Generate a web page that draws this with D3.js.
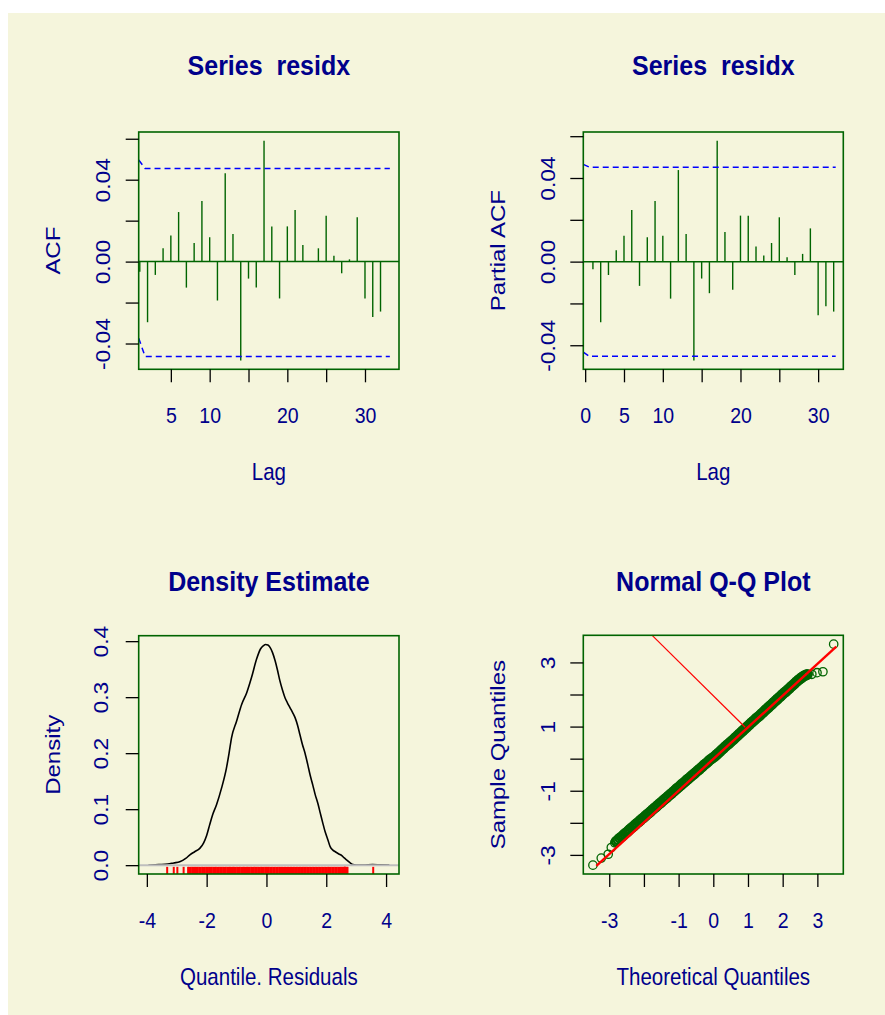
<!DOCTYPE html>
<html>
<head>
<meta charset="utf-8">
<script src="https://cdn.jsdelivr.net/npm/d3@7"></script>
<style>
  html, body { margin: 0; padding: 0; background: #fff; }
  svg { display: block; font-family: "Liberation Sans", Arial, sans-serif; }
</style>
</head>
<body>
<svg id="chart" width="885" height="1015"></svg>
<script>
// ---- data ----
const lags = [1,2,3,4,5,6,7,8,9,10,11,12,13,14,15,16,17,18,19,20,21,22,23,24,25,26,27,28,29,30,31,32];
const acfValues = [-0.0049,-0.0296,-0.0065,0.0065,0.0127,0.0242,-0.0127,0.0091,0.0296,0.0119,
  -0.0190,0.0431,0.0135,-0.0483,-0.0083,-0.0127,0.0590,0.0172,-0.0180,0.0172,
  0.0252,0.0081,0.0003,0.0065,0.0224,0.0029,-0.0057,0.0011,0.0216,-0.0180,-0.0270,-0.0244];
const pacfValues = [-0.0037,-0.0290,-0.0064,0.0054,0.0124,0.0247,-0.0116,0.0116,0.0290,0.0124,
  -0.0177,0.0438,0.0132,-0.0473,-0.0081,-0.0151,0.0578,0.0142,-0.0134,0.0220,
  0.0220,0.0072,0.0029,0.0089,0.0212,0.0021,-0.0064,0.0037,0.0159,-0.0256,-0.0213,-0.0239];

// confidence bands: lag positions and values
const acfCiLags = [0.86, 1.68, 33.2];
const acfCiUpper = [0.0496, 0.0455, 0.0455];
const acfCiLower = [-0.0374, -0.0463, -0.0463];
const pacfCiLags = [-0.24, 0.55, 32.26];
const pacfCiUpper = [0.0465, 0.0452, 0.0452];
const pacfCiLower = [-0.0433, -0.0453, -0.0453];

// density estimate
const densX = [-3.95,-3.6,-3.3,-3.1,-2.9,-2.7,-2.55,-2.4,-2.23,-2.1,-2.0,-1.9,-1.8,-1.67,-1.5,-1.34,-1.25,-1.17,-1.0,-0.83,
  -0.66,-0.5,-0.33,-0.2,-0.1,-0.03,0.05,0.12,0.2,0.29,0.37,0.45,0.54,0.62,0.7,0.79,0.88,0.96,1.04,1.12,
  1.2,1.29,1.38,1.46,1.55,1.63,1.72,1.8,1.88,1.96,2.05,2.13,2.22,2.3,2.42,2.52,2.6,2.69,2.8,2.89,
  3.1,3.3,3.55,3.8,4.11];
const densY = [0,0.001,0.002,0.004,0.006,0.012,0.019,0.024,0.030,0.040,0.053,0.072,0.090,0.108,0.138,0.173,0.200,0.227,0.257,0.287,
  0.308,0.335,0.368,0.386,0.392,0.394,0.393,0.389,0.380,0.365,0.348,0.329,0.312,0.299,0.290,0.281,0.272,0.263,0.250,0.233,
  0.216,0.200,0.180,0.161,0.143,0.126,0.110,0.093,0.076,0.060,0.046,0.033,0.027,0.024,0.020,0.017,0.013,0.009,0.004,0.001,
  0,0.0003,0.001,0.0005,0];

// normal Q-Q: isolated tail points and the dense central band
const qqTailTheo = [-3.47,-3.23,-3.03,-2.94,-2.84,2.73,2.84,2.99,3.16,3.47];
const qqTailSample = [-3.32,-3.10,-2.98,-2.77,-2.62,2.63,2.63,2.68,2.71,3.57];
const qqBandTheo = [
  -2.80,-2.75,-2.70,-2.65,-2.60,-2.55,-2.50,-2.45,-2.40,-2.35,
  -2.30,-2.25,-2.20,-2.15,-2.10,-2.05,-2.00,-1.95,-1.90,-1.85,
  -1.80,-1.75,-1.70,-1.65,-1.60,-1.55,-1.50,-1.45,-1.40,-1.35,
  -1.30,-1.25,-1.20,-1.15,-1.10,-1.05,-1.00,-0.95,-0.90,-0.85,
  -0.80,-0.75,-0.70,-0.65,-0.60,-0.55,-0.50,-0.45,-0.40,-0.35,
  -0.30,-0.25,-0.20,-0.15,-0.10,-0.05,0.00,0.05,0.10,0.15,
  0.20,0.25,0.30,0.35,0.40,0.45,0.50,0.55,0.60,0.65,
  0.70,0.75,0.80,0.85,0.90,0.95,1.00,1.05,1.10,1.15,
  1.20,1.25,1.30,1.35,1.40,1.45,1.50,1.55,1.60,1.65,
  1.70,1.75,1.80,1.85,1.90,1.95,2.00,2.05,2.10,2.15,
  2.20,2.25,2.30,2.35,2.40,2.45,2.50,2.55,2.60,2.65,2.70];
const qqBandSample = [
  -2.58,-2.53,-2.48,-2.44,-2.39,-2.34,-2.30,-2.25,-2.20,-2.15,
  -2.11,-2.06,-2.01,-1.97,-1.92,-1.87,-1.83,-1.78,-1.73,-1.69,
  -1.64,-1.59,-1.54,-1.50,-1.45,-1.40,-1.36,-1.31,-1.26,-1.22,
  -1.17,-1.12,-1.08,-1.03,-0.98,-0.93,-0.89,-0.84,-0.79,-0.75,
  -0.70,-0.65,-0.61,-0.56,-0.51,-0.47,-0.42,-0.37,-0.33,-0.28,
  -0.23,-0.18,-0.14,-0.09,-0.04,0.00,0.04,0.08,0.13,0.18,
  0.23,0.28,0.33,0.38,0.43,0.47,0.52,0.57,0.62,0.67,
  0.72,0.77,0.82,0.87,0.92,0.97,1.02,1.07,1.12,1.17,
  1.22,1.27,1.31,1.36,1.41,1.46,1.51,1.56,1.61,1.66,
  1.71,1.76,1.81,1.86,1.91,1.96,2.01,2.06,2.10,2.15,
  2.20,2.25,2.30,2.35,2.40,2.45,2.49,2.53,2.57,2.60,2.62];
const qqLineTheo = [-3.37, 3.545];
const qqLineSample = [-3.34, 3.49];
const qqStrayTheo = [-1.77, 0.92];
const qqStraySample = [3.85, 0.98];

// ticks and labels
const acfXTicks = [5,10,15,20,25,30];
const acfXLabels = ["5","10","","20","","30"];
const pacfXTicks = [0,5,10,15,20,25,30];
const pacfXLabels = ["0","5","10","","20","","30"];
const corYTicks = [-0.04,-0.02,0,0.02,0.04,0.06];
const corYLabels = ["-0.04","","0.00","","0.04",""];
const densXTicks = [-4,-2,0,2,4];
const densXLabels = ["-4","-2","0","2","4"];
const densYTicks = [0,0.1,0.2,0.3,0.4];
const densYLabels = ["0.0","0.1","0.2","0.3","0.4"];
const qqXTicks = [-3,-2,-1,0,1,2,3];
const qqXLabels = ["-3","","-1","0","1","2","3"];
const qqYTicks = [-3,-2,-1,0,1,2,3];
const qqYLabels = ["-3","","-1","","1","","3"];

// ---- styling ----
const navy = "#00008B";
const green = "#006400";
const textStretch = 1.17;

const svg = d3.select("#chart");
svg.append("rect").attr("x", 8).attr("y", 13).attr("width", 877).attr("height", 1002).attr("fill", "#F5F5DC");

// pad a range by 4% like R does
function rPad(values) {
  const [lo, hi] = d3.extent(values);
  const p = (hi - lo) * 0.04;
  return [lo - p, hi + p];
}

// plot regions
const boxes = {
  acf:  {left: 138.7, right: 399,   top: 132,   bottom: 369.3},
  pacf: {left: 583.3, right: 843.3, top: 132,   bottom: 369.3},
  dens: {left: 138.7, right: 399,   top: 635.7, bottom: 874},
  qq:   {left: 583.3, right: 843.3, top: 635.3, bottom: 874}
};

function addText(x, y, str, opts = {}) {
  const size = opts.size || 20.5;
  const k = opts.stretch || textStretch;
  const rot = opts.rotate ? " rotate(-90)" : "";
  svg.append("text")
    .attr("transform", `translate(${x},${y}) scale(1,${k})${rot}`)
    .attr("text-anchor", "middle")
    .attr("fill", navy)
    .style("font-size", size + "px")
    .style("font-weight", opts.bold ? "bold" : "normal")
    .style("white-space", "pre")
    .text(str);
}

function bottomAxis(b, scale, ticks, labels, labelOffset) {
  const g = svg.append("g")
    .attr("transform", `translate(0,${b.bottom})`)
    .call(d3.axisBottom(scale).tickValues(ticks).tickSize(13).tickSizeOuter(0)
      .tickFormat((d, i) => labels[i]));
  g.select(".domain").remove();
  g.selectAll("line").attr("stroke", "#000").attr("stroke-width", 1.3);
  g.selectAll("text")
    .attr("y", null).attr("dy", null)
    .attr("transform", `translate(0,${labelOffset}) scale(1,${textStretch})`)
    .attr("fill", navy)
    .style("font-size", "19.5px");
}

function leftAxis(b, scale, ticks, labels, labelOffset) {
  const g = svg.append("g")
    .attr("transform", `translate(${b.left},0)`)
    .call(d3.axisLeft(scale).tickValues(ticks).tickSize(13).tickSizeOuter(0)
      .tickFormat((d, i) => labels[i]));
  g.select(".domain").remove();
  g.selectAll("line").attr("stroke", "#000").attr("stroke-width", 1.3);
  g.selectAll("text")
    .attr("x", null).attr("dy", null)
    .attr("text-anchor", "middle")
    .attr("transform", `translate(${-labelOffset},0) scale(1,${textStretch}) rotate(-90)`)
    .attr("fill", navy)
    .style("font-size", "19.5px");
}

function frame(b) {
  svg.append("rect")
    .attr("x", b.left).attr("y", b.top)
    .attr("width", b.right - b.left).attr("height", b.bottom - b.top)
    .attr("fill", "none").attr("stroke", green).attr("stroke-width", 1.6);
}

// ---- correlogram panels ----
function correlogram(b, lagDomain, values, ciLags, ciUp, ciLo, xTicks, xLabels, yTitle) {
  const x = d3.scaleLinear().domain(lagDomain).range([b.left, b.right]);
  const y = d3.scaleLinear()
    .domain(rPad(values.concat(ciUp, ciLo)))
    .range([b.bottom, b.top]);

  svg.append("line")
    .attr("x1", b.left).attr("x2", b.right)
    .attr("y1", y(0)).attr("y2", y(0))
    .attr("stroke", green).attr("stroke-width", 1.5);

  svg.append("g").selectAll("line")
    .data(lags)
    .join("line")
      .attr("x1", d => x(d)).attr("x2", d => x(d))
      .attr("y1", y(0)).attr("y2", (d, i) => y(values[i]))
      .attr("stroke", green).attr("stroke-width", 1.4);

  const ci = d3.line().x(d => x(d[0])).y(d => y(d[1]));
  [ciUp, ciLo].forEach(band => {
    svg.append("path")
      .attr("d", ci(ciLags.map((l, i) => [l, band[i]])))
      .attr("fill", "none").attr("stroke", "#0000FF")
      .attr("stroke-width", 1.5).attr("stroke-dasharray", "6,4");
  });

  frame(b);
  bottomAxis(b, x, xTicks, xLabels, 54);
  leftAxis(b, y, corYTicks, corYLabels, 28.7);

  const cx = (b.left + b.right) / 2;
  addText(cx, 75, "Series  residx", {size: 25, bold: true, stretch: 1.12});
  addText(cx, b.bottom + 110.7, "Lag");
  addText(b.left - 78.5, (b.top + b.bottom) / 2, yTitle, {rotate: true});
}

correlogram(boxes.acf, [0.86, 34.38], acfValues, acfCiLags, acfCiUpper, acfCiLower,
  acfXTicks, acfXLabels, "ACF");
correlogram(boxes.pacf, rPad(lags), pacfValues, pacfCiLags, pacfCiUpper, pacfCiLower,
  pacfXTicks, pacfXLabels, "Partial ACF");

// ---- density panel ----
{
  const b = boxes.dens;
  const x = d3.scaleLinear().domain(rPad(densX)).range([b.left, b.right]);
  const y = d3.scaleLinear().domain(rPad(densY)).range([b.bottom, b.top]);

  svg.append("path")
    .attr("d", d3.line().x(d => x(d[0])).y(d => y(d[1])).curve(d3.curveMonotoneX)(densX.map((v, i) => [v, densY[i]])))
    .attr("fill", "none").attr("stroke", "#000").attr("stroke-width", 1.6);

  svg.append("line")
    .attr("x1", b.left).attr("x2", b.right)
    .attr("y1", y(0)).attr("y2", y(0))
    .attr("stroke", "#BEBEBE").attr("stroke-width", 2);

  // rug of the residuals (same values as the Q-Q sample quantiles)
  const residuals = qqTailSample.slice(0, 5).concat(qqBandSample, qqTailSample.slice(5));
  const rugLen = (b.bottom - b.top) * 0.03;
  svg.append("g").selectAll("line")
    .data(residuals)
    .join("line")
      .attr("x1", d => x(d)).attr("x2", d => x(d))
      .attr("y1", b.bottom).attr("y2", b.bottom - rugLen)
      .attr("stroke", "#FF0000").attr("stroke-width", 2);

  frame(b);
  bottomAxis(b, x, densXTicks, densXLabels, 54);
  leftAxis(b, y, densYTicks, densYLabels, 31);

  const cx = (b.left + b.right) / 2;
  addText(cx, 591, "Density Estimate", {size: 25, bold: true, stretch: 1.12});
  addText(cx, b.bottom + 110.7, "Quantile. Residuals");
  addText(b.left - 78.5, (b.top + b.bottom) / 2, "Density", {rotate: true});
}

// ---- normal Q-Q panel ----
{
  const b = boxes.qq;
  const allTheo = qqTailTheo.concat(qqBandTheo);
  const allSample = qqTailSample.concat(qqBandSample);
  const x = d3.scaleLinear().domain(rPad(allTheo)).range([b.left, b.right]);
  const y = d3.scaleLinear().domain(rPad(allSample)).range([b.bottom, b.top]);

  // the overplotted central band of points
  svg.append("g").selectAll("circle")
    .data(qqBandTheo)
    .join("circle")
      .attr("cx", d => x(d))
      .attr("cy", (d, i) => y(qqBandSample[i]))
      .attr("r", 4.3)
      .attr("fill", "none").attr("stroke", green).attr("stroke-width", 2.4);

  svg.append("g").selectAll("circle")
    .data(qqTailTheo)
    .join("circle")
      .attr("cx", d => x(d))
      .attr("cy", (d, i) => y(qqTailSample[i]))
      .attr("r", 4.2)
      .attr("fill", "none").attr("stroke", green).attr("stroke-width", 1.3);

  svg.append("line")
    .attr("x1", x(qqLineTheo[0])).attr("y1", y(qqLineSample[0]))
    .attr("x2", x(qqLineTheo[1])).attr("y2", y(qqLineSample[1]))
    .attr("stroke", "#FF0000").attr("stroke-width", 2.4);

  svg.append("line")
    .attr("x1", x(qqStrayTheo[0])).attr("y1", y(qqStraySample[0]))
    .attr("x2", x(qqStrayTheo[1])).attr("y2", y(qqStraySample[1]))
    .attr("stroke", "#FF0000").attr("stroke-width", 1.2);

  frame(b);
  bottomAxis(b, x, qqXTicks, qqXLabels, 54);
  leftAxis(b, y, qqYTicks, qqYLabels, 28.5);

  const cx = (b.left + b.right) / 2;
  addText(cx, 591, "Normal Q-Q Plot", {size: 25, bold: true, stretch: 1.12});
  addText(cx, b.bottom + 110.7, "Theoretical Quantiles");
  addText(b.left - 78.5, (b.top + b.bottom) / 2, "Sample Quantiles", {rotate: true});
}
</script>
</body>
</html>
